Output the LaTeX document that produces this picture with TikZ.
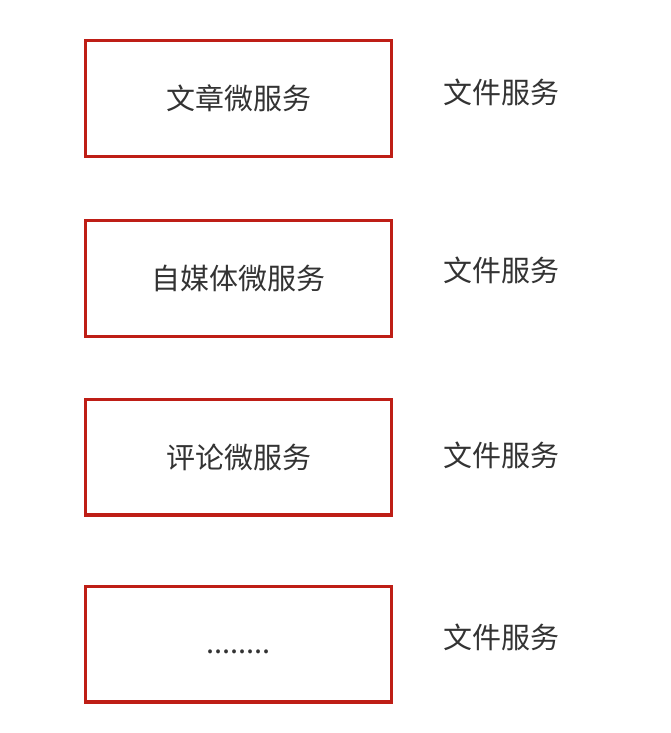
\documentclass[tikz,border=0pt]{standalone}
\usepackage{fontspec}
\newfontfamily\cjk{Noto Sans CJK SC}
\definecolor{boxred}{HTML}{BE1E16}
\definecolor{txtgray}{HTML}{333333}
\tikzset{
  svcbox/.style={draw=boxred, line width=3.4pt, minimum width=305.6pt, minimum height=115.6pt, inner sep=0pt, text=txtgray, font=\cjk\fontsize{29}{31}\selectfont},
  filelabel/.style={text=txtgray, inner sep=0pt, font=\cjk\fontsize{29}{31}\selectfont}
}

\begin{document}
\begin{tikzpicture}[x=1pt, y=-1pt]
      \useasboundingbox (0,0) rectangle (671,733);
      \node[svcbox] (s1) at (238.5,98.5) {};
      \node[svcbox] (s2) at (238.5,278.5) {};
      \node[svcbox] (s3) at (238.5,457) {};
      \node[svcbox] (s4) at (238.5,644) {};
      \node[filelabel] (t1) at (238.5,98) {文章微服务};
      \node[filelabel] (t2) at (238.5,278) {自媒体微服务};
      \node[filelabel] (t3) at (238.5,457) {评论微服务};
      \node[filelabel] (t4) at (238.5,652) {........};
      \node[filelabel] (f1) at (501,92) {文件服务};
      \node[filelabel] (f2) at (501,270) {文件服务};
      \node[filelabel] (f3) at (501,455) {文件服务};
      \node[filelabel] (f4) at (501,637) {文件服务};
    \end{tikzpicture}
\end{document}
